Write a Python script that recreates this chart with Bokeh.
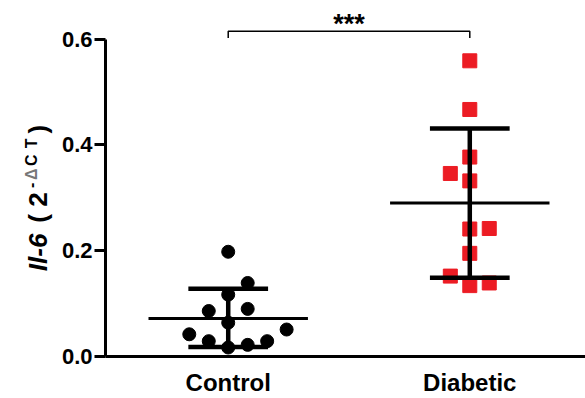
import math
from bokeh.plotting import figure
from bokeh.layouts import row
from bokeh.models import Range1d, FixedTicker, Label, NumeralTickFormatter
from bokeh.core.properties import value
from bokeh.embed import file_html
from bokeh.resources import INLINE

# ---- data ----
categories = ["Control", "Diabetic"]
control_values = [0.198, 0.139, 0.117, 0.086, 0.090, 0.064, 0.042, 0.051, 0.029, 0.029, 0.017, 0.022]
control_slots = [0, 1, 0, -1, 1, 0, -2, 3, -1, 2, 0, 1]
diabetic_values = [0.559, 0.467, 0.377, 0.346, 0.332, 0.241, 0.242, 0.195, 0.152, 0.134, 0.139]
diabetic_slots = [0, 0, 0, -1, 0, 0, 1, 0, -1, 0, 1]
means = [0.072, 0.290]
sd_low = [0.018, 0.149]
sd_high = [0.128, 0.431]
y_ticks = [0.0, 0.2, 0.4, 0.6]
bracket_y = 0.615
stars = "***"
ylabel_parts = ["Il-6", "(", "2", "-", "\u0394", "C", "T", ")"]

# ---- layout / style ----
SLOT = 0.0806
MEAN_HALF = 0.33
CAP_HALF = 0.165
RED = "#EC1C24"
FONT = "Liberation Sans"
LW = 58    # width of the y-title strip
H = 398
BOTTOM = 39
FRAME_LEFT = 104

# ---- y-axis title strip: data y = H - pixel row ----
t = figure(width=LW, height=H, output_backend="svg", toolbar_location=None,
           x_range=Range1d(0, LW), y_range=Range1d(BOTTOM, H),
           min_border_left=0, min_border_right=0, min_border_top=0,
           min_border_bottom=BOTTOM)
t.axis.visible = False
t.grid.visible = False
t.outline_line_color = None
t.border_fill_color = "white"
t.background_fill_color = "white"

def piece(text, cx, start_py, size, style="bold", color="black"):
    t.text(x=[cx], y=[H - start_py], text=[text], angle=math.pi / 2, text_align="left",
           text_baseline="middle", text_font=value(FONT), text_font_size=value(size),
           text_font_style=value(style), text_color=color)

piece(ylabel_parts[0], 37, 273, "26px", "bold italic")
piece(ylabel_parts[1], 37, 224, "26px")
piece(ylabel_parts[2], 37, 208, "26px")
piece(ylabel_parts[3], 30.5, 189, "16px")
piece(ylabel_parts[4], 30.5, 181, "16px", "bold", "#777777")
piece(ylabel_parts[5], 30.5, 167, "16px")
piece(ylabel_parts[6], 30.5, 149, "16px")
piece(ylabel_parts[7], 37, 134, "26px")

# ---- main plot ----
p = figure(width=585 - LW, height=H, output_backend="svg", toolbar_location=None,
           x_range=Range1d(0.492, 2.479), y_range=Range1d(0, 0.673),
           min_border_left=FRAME_LEFT - LW, min_border_right=0, min_border_top=0,
           min_border_bottom=BOTTOM)
p.outline_line_color = None
p.grid.visible = False
p.background_fill_color = "white"
p.border_fill_color = "white"

xc = [1 + s * SLOT for s in control_slots]
xd = [2 + s * SLOT for s in diabetic_slots]
p.scatter(xc, control_values, marker="circle", size=13, color="black")
p.scatter(xd, diabetic_values, marker="square", size=14, color=RED)

pos = [1, 2]
p.segment([c - MEAN_HALF for c in pos], means, [c + MEAN_HALF for c in pos], means,
          line_width=3, color="black")
p.segment(pos, sd_low, pos, sd_high, line_width=4.5, color="black")
p.segment([c - CAP_HALF for c in pos], sd_high, [c + CAP_HALF for c in pos], sd_high,
          line_width=4.5, color="black")
p.segment([c - CAP_HALF for c in pos], sd_low, [c + CAP_HALF for c in pos], sd_low,
          line_width=4.5, color="black")

# significance bracket
p.line([1, 1, 2, 2], [bracket_y - 0.013, bracket_y, bracket_y, bracket_y - 0.013],
       line_width=1.5, color="black")
p.add_layout(Label(x=1.5, y=0.628, text=stars, text_align="center", text_baseline="alphabetic",
                   text_font=FONT, text_font_size="27px", text_font_style="bold",
                   text_color="black"))

# axes
yax = p.yaxis[0]
yax.ticker = FixedTicker(ticks=y_ticks)
yax.bounds = (0, 0.6)
yax.formatter = NumeralTickFormatter(format="0.0")
yax.axis_line_width = 3
yax.axis_line_color = "black"
yax.major_tick_line_width = 3
yax.major_tick_line_color = "black"
yax.major_tick_out = 11
yax.major_tick_in = 0
yax.minor_tick_line_color = None
yax.major_label_text_font = FONT
yax.major_label_text_font_style = "bold"
yax.major_label_text_font_size = "22px"
yax.major_label_standoff = 2
yax.major_label_text_color = "black"

xax = p.xaxis[0]
xax.ticker = FixedTicker(ticks=pos)
xax.major_label_overrides = {1: categories[0], 2: categories[1]}
xax.axis_line_width = 3
xax.axis_line_color = "black"
xax.major_tick_line_color = None
xax.major_tick_out = 0
xax.major_tick_in = 0
xax.minor_tick_line_color = None
xax.major_label_text_font = FONT
xax.major_label_text_font_style = "bold"
xax.major_label_text_font_size = "24px"
xax.major_label_standoff = 12
xax.major_label_text_color = "black"

layout = row(t, p, spacing=0)
open("out.html", "w").write(file_html(layout, INLINE))
